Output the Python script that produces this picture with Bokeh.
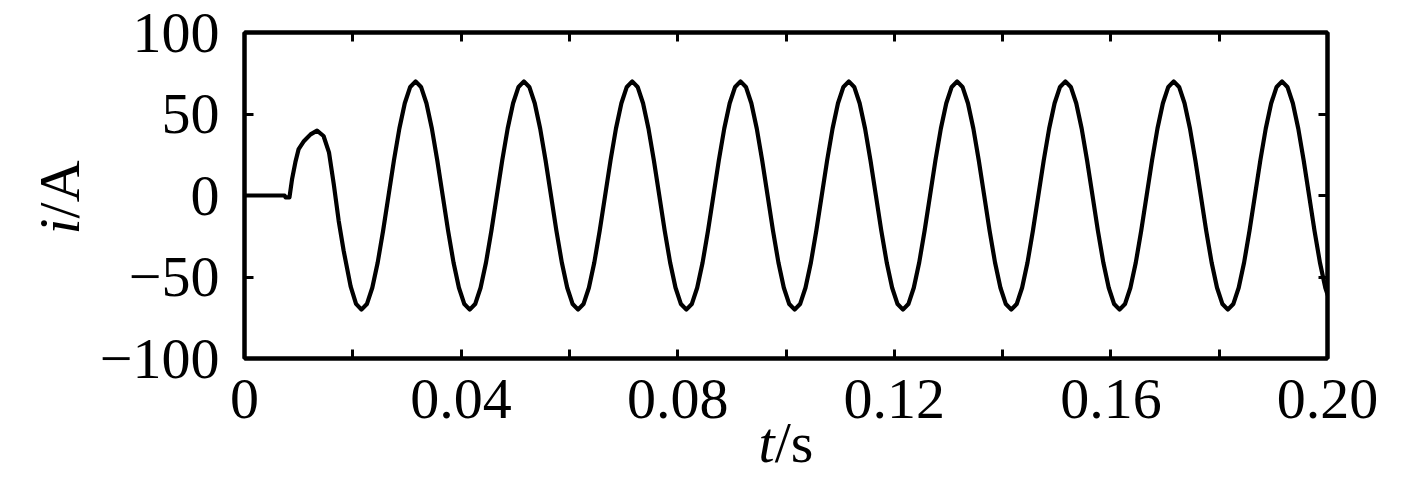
import math
from bokeh.plotting import figure
from bokeh.models import (FixedTicker, LinearAxis, Label, Range1d, ColumnDataSource,
                          CustomLabelingPolicy)
from bokeh.embed import file_html
from bokeh.resources import INLINE

# ---- data ----
# start-up transient (s, A)
startup_t = [0.0, 0.0074, 0.0076, 0.0083, 0.0088, 0.0094, 0.0100, 0.0110, 0.0122,
             0.0134, 0.0146, 0.0156, 0.0165, 0.0174, 0.0183, 0.0196, 0.0206]
startup_i = [0.0, 0.0, -1.2, -1.2, 10.4, 20.5, 28.5, 33.5, 37.5,
             39.8, 36.5, 26.5, 6.6, -15.7, -33.7, -55.8, -66.5]

# steady state, sampled every 1 ms starting at the first trough (t = 0.0216 s)
steady_t0 = 0.0216
sample_step = 0.001
steady_i = [
    -70.0, -66.6, -56.6, -41.1, -21.6, 0.0, 21.6, 41.1, 56.6, 66.6, 70.0, 66.6, 56.6, 41.1, 21.6, 0.0, -21.6, -41.1, -56.6, -66.6,
    -70.0, -66.6, -56.6, -41.1, -21.6, 0.0, 21.6, 41.1, 56.6, 66.6, 70.0, 66.6, 56.6, 41.1, 21.6, 0.0, -21.6, -41.1, -56.6, -66.6,
    -70.0, -66.6, -56.6, -41.1, -21.6, 0.0, 21.6, 41.1, 56.6, 66.6, 70.0, 66.6, 56.6, 41.1, 21.6, 0.0, -21.6, -41.1, -56.6, -66.6,
    -70.0, -66.6, -56.6, -41.1, -21.6, 0.0, 21.6, 41.1, 56.6, 66.6, 70.0, 66.6, 56.6, 41.1, 21.6, 0.0, -21.6, -41.1, -56.6, -66.6,
    -70.0, -66.6, -56.6, -41.1, -21.6, 0.0, 21.6, 41.1, 56.6, 66.6, 70.0, 66.6, 56.6, 41.1, 21.6, 0.0, -21.6, -41.1, -56.6, -66.6,
    -70.0, -66.6, -56.6, -41.1, -21.6, 0.0, 21.6, 41.1, 56.6, 66.6, 70.0, 66.6, 56.6, 41.1, 21.6, 0.0, -21.6, -41.1, -56.6, -66.6,
    -70.0, -66.6, -56.6, -41.1, -21.6, 0.0, 21.6, 41.1, 56.6, 66.6, 70.0, 66.6, 56.6, 41.1, 21.6, 0.0, -21.6, -41.1, -56.6, -66.6,
    -70.0, -66.6, -56.6, -41.1, -21.6, 0.0, 21.6, 41.1, 56.6, 66.6, 70.0, 66.6, 56.6, 41.1, 21.6, 0.0, -21.6, -41.1, -56.6, -66.6,
    -70.0, -66.6, -56.6, -41.1, -21.6, 0.0, 21.6, 41.1, 56.6, 66.6, 70.0, 66.6, 56.6, 41.1, 21.6, 0.0, -21.6, -41.1, -56.6, -66.6,
]

x_major = [0, 0.04, 0.08, 0.12, 0.16, 0.20]
x_major_labels = ["0", "0.04", "0.08", "0.12", "0.16", "0.20"]
x_minor = [0.02, 0.06, 0.10, 0.14, 0.18]
y_major = [-100, -50, 0, 50, 100]
y_major_labels = ["\u2212100", "\u221250", "0", "50", "100"]

# axis titles: italic quantity symbol + upright unit
x_label_parts = ["t", "/s"]
y_label_parts = ["i", "/", "A"]

# ---- build ----
t_all = startup_t + [round(steady_t0 + sample_step * k, 4) for k in range(len(steady_i))]
i_all = startup_i + steady_i
src = ColumnDataSource(dict(t=t_all, i=i_all))

FONT = "Liberation Serif"
FS_PX = 58
FS = f"{FS_PX}px"
LW = 4
W, H = 1401, 475
B_LEFT, B_RIGHT, B_TOP, B_BOTTOM = 244, 74, 32, 117

p = figure(width=W, height=H,
           x_range=Range1d(0, 0.2), y_range=Range1d(-100, 100),
           output_backend="svg", toolbar_location=None,
           min_border_left=B_LEFT, min_border_right=B_RIGHT,
           min_border_top=B_TOP, min_border_bottom=B_BOTTOM)
p.xgrid.visible = False
p.ygrid.visible = False
p.outline_line_color = "black"
p.outline_line_width = LW
p.background_fill_color = "white"
p.border_fill_color = "white"

p.line("t", "i", source=src, line_width=4.2, line_color="black", line_join="round")

bottom_axis = p.below[0]
left_axis = p.left[0]
top_axis = LinearAxis()
right_axis = LinearAxis()
p.add_layout(top_axis, "above")
p.add_layout(right_axis, "right")

hide_all = CustomLabelingPolicy(code="""
for (let k = 0; k < indices.size; k++) { indices.unset(k) }
return indices
""")


def style(ax, ticks, minor, labels, show):
    ax.ticker = FixedTicker(ticks=ticks, minor_ticks=minor)
    ax.major_label_overrides = dict(zip(ticks, labels))
    ax.axis_line_color = "black"
    ax.axis_line_width = LW
    ax.major_tick_in = 9
    ax.major_tick_out = 0
    ax.major_tick_line_width = 3
    ax.major_tick_line_color = "black"
    ax.minor_tick_in = 9
    ax.minor_tick_out = 0
    ax.minor_tick_line_width = 3
    ax.minor_tick_line_color = "black"
    ax.major_label_text_font = FONT
    ax.major_label_text_color = "black"
    if show:
        ax.major_label_text_font_size = FS
    else:
        ax.major_label_text_font_size = "0px"
        ax.major_label_standoff = 0
        ax.major_label_policy = hide_all


style(bottom_axis, x_major, x_minor, x_major_labels, True)
style(top_axis, x_major, x_minor, x_major_labels, False)
style(left_axis, y_major, [], y_major_labels, True)
style(right_axis, y_major, [], y_major_labels, False)
bottom_axis.major_label_standoff = 21
left_axis.major_label_standoff = 25

# title positions in canvas pixels (y measured from the top of the canvas);
# the anchor is the vertical middle of each text box
ADV = {"i": 0.278, "/": 0.278, "A": 0.722, "t": 0.278, "s": 0.389}
ylab_mid_x = 59
ylab_start_y = 234
xlab_mid_y = 442
xlab_center_x = B_LEFT + (W - B_LEFT - B_RIGHT) / 2
xlab_len = sum(ADV[c] for c in "".join(x_label_parts)) * FS_PX

common = dict(text_font=FONT, text_font_size=FS, text_color="black",
              text_align="left", text_baseline="middle",
              x_units="canvas", y_units="canvas")

# labels live in side panels (not clipped by the frame); spread across the
# panels that have spare room so they do not change the frame position
y_panels = ["above", "below", "left"]
pos = ylab_start_y
for part, panel in zip(y_label_parts, y_panels):
    style_kw = {"text_font_style": "italic"} if part == "i" else {}
    p.add_layout(Label(x=ylab_mid_x, y=pos, text=part, angle=math.pi / 2,
                       **style_kw, **common), panel)
    pos -= sum(ADV[c] for c in part) * FS_PX

xpos = xlab_center_x - xlab_len / 2
for part in x_label_parts:
    style_kw = {"text_font_style": "italic"} if part == "t" else {}
    p.add_layout(Label(x=xpos, y=xlab_mid_y, text=part, **style_kw, **common), "right")
    xpos += sum(ADV[c] for c in part) * FS_PX

open("out.html", "w").write(file_html(p, INLINE))
